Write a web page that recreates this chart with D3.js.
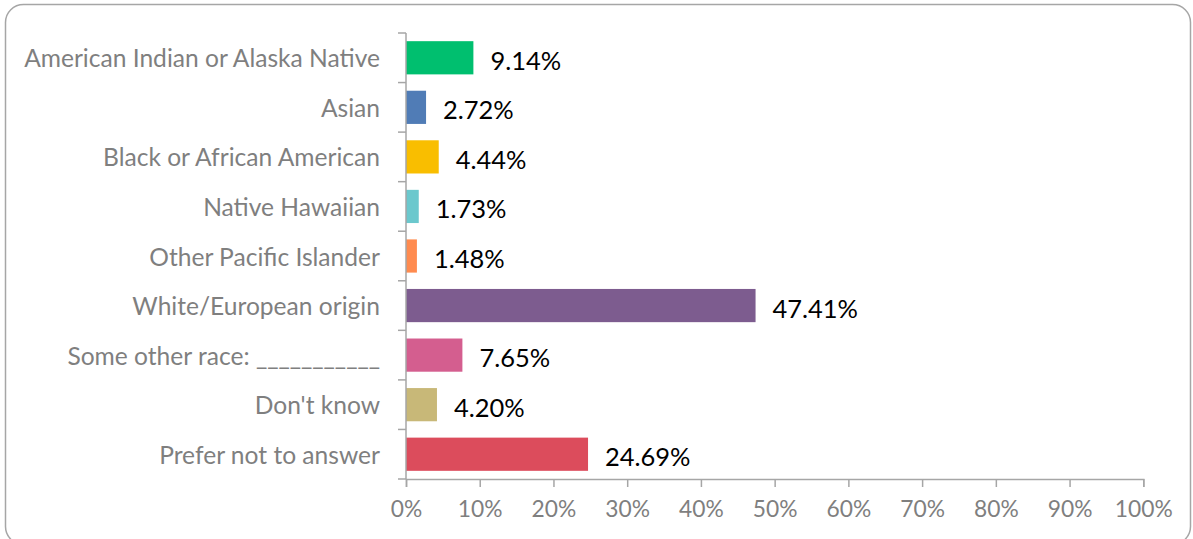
<!DOCTYPE html>
<html>
<head>
<meta charset="utf-8">
<script src="https://cdn.jsdelivr.net/npm/d3@7"></script>
<style>
  html, body { margin: 0; padding: 0; background: #fff; }
  svg { display: block; }
  text { font-family: Lato, "Open Sans", sans-serif; }
</style>
</head>
<body>
<svg id="chart" width="1193" height="539"></svg>
<script>
const categories = [
  "American Indian or Alaska Native",
  "Asian",
  "Black or African American",
  "Native Hawaiian",
  "Other Pacific Islander",
  "White/European origin",
  "Some other race: ___________",
  "Don't know",
  "Prefer not to answer"
];
const values = [9.14, 2.72, 4.44, 1.73, 1.48, 47.41, 7.65, 4.20, 24.69];
const colors = ["#00BF6F", "#507CB6", "#F9BE00", "#6BC8CD", "#FF8B4F", "#7D5C8F", "#D45E8F", "#C8B878", "#DC4C5C"];
const xTicks = [0, 10, 20, 30, 40, 50, 60, 70, 80, 90, 100];

const svg = d3.select("#chart");

// outer rounded frame
svg.append("rect")
  .attr("x", 5.5).attr("y", 4.5)
  .attr("width", 1185).attr("height", 540)
  .attr("rx", 18).attr("ry", 18)
  .attr("fill", "none").attr("stroke", "#a6a6a6").attr("stroke-width", 1.5);

const x = d3.scaleLinear().domain([0, 100]).range([406, 1143.3]);
const y = d3.scaleBand().domain(categories).range([33, 479])
  .paddingInner(0.33).paddingOuter(0.165);

const axisColor = "#a6a6a6";
const labelColor = "#7f7f7f";

function fitSize(str, target, base) {
  const t = svg.append("text").style("font-size", base + "px").text(str);
  const w = t.node().getComputedTextLength();
  t.remove();
  return base * target / w;
}
const catSize = fitSize("American Indian or Alaska Native", 356, 20);
const tickSize = fitSize("100%", 58, 20);
const valSize = fitSize("47.41%", 85.5, 20);

// bars
svg.append("g").selectAll("rect").data(categories).join("rect")
  .attr("x", x(0))
  .attr("y", d => y(d))
  .attr("width", (d, i) => x(values[i]) - x(0))
  .attr("height", y.bandwidth())
  .attr("fill", (d, i) => colors[i]);

// value labels
svg.append("g").selectAll("text").data(categories).join("text")
  .attr("x", (d, i) => x(values[i]) + 17)
  .attr("y", d => y(d) + y.bandwidth() / 2 + 2)
  .attr("dominant-baseline", "central")
  .style("font-size", valSize + "px")
  .attr("fill", "#000")
  .text((d, i) => values[i].toFixed(2) + "%");

// y axis (category)
const yAxisG = svg.append("g");
yAxisG.append("line")
  .attr("x1", x(0)).attr("x2", x(0))
  .attr("y1", 33).attr("y2", 479)
  .attr("stroke", axisColor).attr("stroke-width", 1.5);
const boundaries = categories.map(c => y(c) - y.step() * y.paddingInner() / 2);
boundaries.push(479);
yAxisG.selectAll("line.tk").data(boundaries).join("line")
  .attr("class", "tk")
  .attr("x1", x(0) - 8).attr("x2", x(0))
  .attr("y1", d => d).attr("y2", d => d)
  .attr("stroke", axisColor).attr("stroke-width", 1.5);
yAxisG.selectAll("text").data(categories).join("text")
  .attr("x", 380)
  .attr("y", d => y(d) + y.bandwidth() / 2)
  .attr("dominant-baseline", "central")
  .attr("text-anchor", "end")
  .style("font-size", catSize + "px")
  .attr("fill", labelColor)
  .text(d => d);

// x axis
const xAxis = d3.axisBottom(x).tickValues(xTicks).tickSize(8).tickPadding(14)
  .tickFormat(d => d + "%");
const xg = svg.append("g").attr("transform", "translate(0,479)").call(xAxis);
xg.select(".domain").attr("stroke", axisColor).attr("stroke-width", 1.5);
xg.selectAll(".tick line").attr("stroke", axisColor).attr("stroke-width", 1.5);
xg.selectAll(".tick text")
  .style("font-family", "Lato, 'Open Sans', sans-serif")
  .style("font-size", tickSize + "px")
  .attr("fill", labelColor);
</script>
</body>
</html>
